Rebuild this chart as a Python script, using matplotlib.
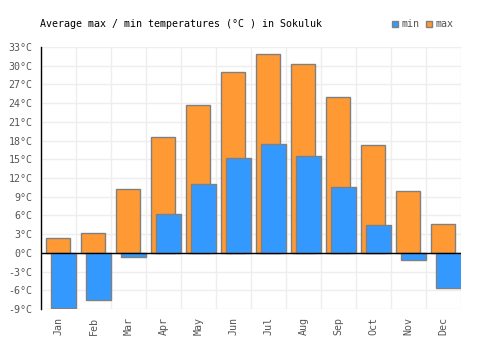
import matplotlib
matplotlib.use("Agg")
import matplotlib.pyplot as plt
from matplotlib.patches import Rectangle

months = ["Jan", "Feb", "Mar", "Apr", "May", "Jun", "Jul", "Aug", "Sep", "Oct", "Nov", "Dec"]
t_max = [2.4, 3.2, 10.2, 18.6, 23.7, 29.0, 31.8, 30.2, 25.0, 17.3, 9.9, 4.6]
t_min = [-8.9, -7.6, -0.6, 6.2, 11.0, 15.2, 17.4, 15.5, 10.5, 4.4, -1.2, -5.6]
yticks = list(range(-9, 34, 3))

plt.rcParams['font.family'] = ['DejaVu Sans Mono']
fig = plt.figure(figsize=(5, 3.5), dpi=100)
ax = fig.add_axes([0.082, 0.117, 0.84, 0.749])

orange = "#ff9933"
blue = "#3399ff"
edge = "#808080"

xs = list(range(len(months)))
ax.bar([x + 0.14 for x in xs], t_max, width=0.69, align='edge', color=orange,
       edgecolor=edge, linewidth=1, zorder=3)
ax.bar([x + 0.29 for x in xs], t_min, width=0.71, align='edge', color=blue,
       edgecolor=edge, linewidth=1, zorder=4)

ax.set_xlim(0, 12)
ax.set_ylim(-9, 33)
ax.set_xticks([x + 0.5 for x in xs])
ax.set_xticklabels(months, rotation=90, fontsize=7.2, color="#555555")
ax.set_yticks(yticks)
ax.set_yticklabels([f"{v}°C" for v in yticks], fontsize=7.2, color="#555555")
ax.tick_params(length=0, pad=6)
for x in range(13):
    ax.axvline(x, color="#eeeeee", linewidth=1, zorder=1)
for y in yticks:
    ax.axhline(y, color="#eeeeee", linewidth=1, zorder=1)
ax.axhline(0, color="black", linewidth=1, zorder=5)
for s in ["top", "right", "bottom"]:
    ax.spines[s].set_visible(False)
ax.spines["left"].set_color("black")
ax.spines["left"].set_linewidth(1)
ax.spines["left"].set_zorder(6)

fig.text(40 / 500, 1 - 24 / 350, "Average max / min temperatures (°C ) in Sokuluk",
         fontsize=7.2, color="black", va="center", ha="left")

# legend
for px, label, col in [(392, "min", blue), (426, "max", orange)]:
    fig.patches.append(Rectangle((px / 500, 1 - 27 / 350), 6 / 500, 6 / 350,
                                 transform=fig.transFigure, facecolor=col,
                                 edgecolor=edge, linewidth=1))
    fig.text((px + 9) / 500, 1 - 24 / 350, label, fontsize=7.2, color="#555555",
             va="center", ha="left")

fig.savefig("out.png", dpi=100)
